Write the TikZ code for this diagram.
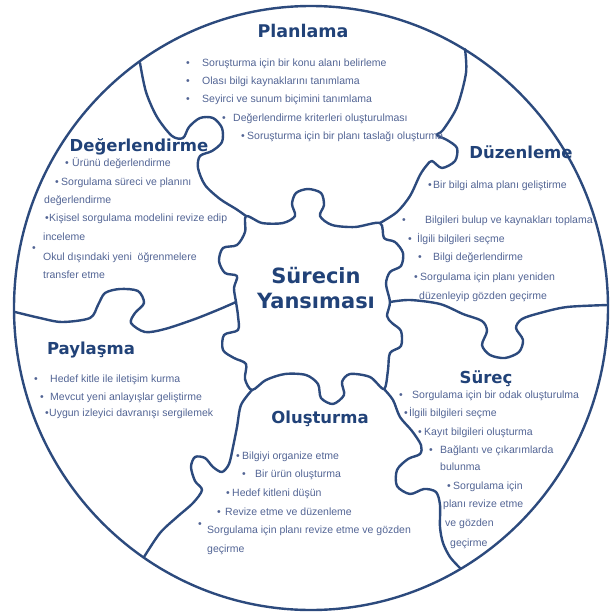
\documentclass[tikz,border=0pt]{standalone}
\usepackage{fontspec}
\setmainfont{Liberation Sans}
\newfontfamily\baslikfont{DejaVu Sans}

\definecolor{cizgi}{RGB}{44,74,125}
\definecolor{baslikrenk}{RGB}{33,66,120}
\definecolor{yazirenk}{RGB}{82,100,148}

\tikzset{
  parca/.style={draw=cizgi, line width=2.4pt, line join=round, line cap=round},
  baslik/.style={font=\baslikfont\bfseries\fontsize{16.5}{18}\selectfont,
    text=baslikrenk, inner sep=0pt, anchor=base},
  satir/.style={font=\fontsize{10.5}{12}\selectfont, text=yazirenk,
    inner sep=0pt, anchor=base west},
}
\newcommand{\madde}[1]{\makebox[#1pt][l]{\textbullet}}

\begin{document}
\begin{tikzpicture}[x=1pt, y=-1pt]
\useasboundingbox (0,0) rectangle (613,616);

\coordinate (TL) at (246,216);
\coordinate (TR) at (380,223);
\coordinate (BR) at (384,389);
\coordinate (BL) at (252,390);
\coordinate (JR) at (390,302);
\coordinate (JL) at (236,302);

% dis cember
\draw[parca] (311,308) ellipse [x radius=297, y radius=302];

% ortadaki parca
\draw[parca] plot[smooth cycle, tension=0.5] coordinates {
  (TL) (262,223) (283,223) (295,216) (292,204) (296,193) (308,189)
  (321,193) (324,205) (320,216) (332,225) (355,227)
  (TR) (384,238) (395,242) (403,253) (401,266) (390,272) (386,284)
  (JR) (387,316) (392,323) (401,331) (401,346) (390,353) (388,370)
  (BR) (370,377) (350,374) (342,382) (344,395) (333,404) (321,398)
  (318,384) (306,375) (285,374) (266,380)
  (BL) (245,379) (246,364) (234,358) (223,350) (224,335) (238,330) (238,316)
  (JL) (234,288) (237,276) (225,273) (219,261) (223,248) (237,245) (245,232)};

% parcalar arasindaki cizgiler
\draw[parca] plot[smooth, tension=0.5] coordinates {
  (140,63) (146,92) (157,117) (172,136) (183,138) (189,127) (200,118)
  (213,118) (222,128) (222,142) (212,151) (200,156) (198,168) (205,185)
  (220,199) (236,209) (TL)};
\draw[parca] plot[smooth, tension=0.5] coordinates {
  (465,49) (466,73) (457,107) (443,130) (437,135) (447,140) (457,148)
  (455,161) (442,168) (432,161) (427,165) (420,175) (410,196) (397,212) (TR)};
\draw[parca] plot[smooth, tension=0.5] coordinates {
  (JR) (410,300) (440,304) (463,314) (482,321) (487,331) (482,345)
  (490,355) (505,358) (519,352) (523,340) (516,328) (522,319) (540,313)
  (567,307) (608,305)};
\draw[parca] plot[smooth, tension=0.5] coordinates {
  (BR) (393,400) (400,417) (412,431) (421,445) (420,454) (408,459)
  (397,470) (397,486) (410,494) (424,489) (436,492) (440,505) (440,527)
  (443,543) (450,557) (460,568)};
\draw[parca] plot[smooth, tension=0.5] coordinates {
  (BL) (241,405) (237,427) (233,447) (229,464) (222,472) (213,467)
  (205,458) (195,457) (191,467) (195,481) (202,490) (193,503) (177,517)
  (160,533) (144,557)};
\draw[parca] plot[smooth, tension=0.5] coordinates {
  (15,312) (40,318) (62,322) (90,318) (98,305) (105,293) (120,289)
  (138,291) (144,303) (135,313) (131,323) (145,332) (165,329) (195,319)
  (220,309) (JL)};

% orta
\node[font=\baslikfont\bfseries\fontsize{21}{25}\selectfont, text=baslikrenk,
  align=center, inner sep=0pt] (orta) at (316,288) {Sürecin\\Yansıması};

% Planlama
\node[baslik, font=\baslikfont\bfseries\fontsize{17.5}{19}\selectfont] (planlama) at (303,37) {Planlama};
\node[satir] (plan1) at (186,66.5) {\madde{16}Soruşturma için bir konu alanı belirleme};
\node[satir] (plan2) at (186,84.5) {\madde{16}Olası bilgi kaynaklarını tanımlama};
\node[satir] (plan3) at (186,102.5) {\madde{16}Seyirci ve sunum biçimini tanımlama};
\node[satir] (plan4) at (222,121.5) {\madde{11}Değerlendirme kriterleri oluşturulması};
\node[satir] (plan5) at (241,139.5) {\madde{6}Soruşturma için bir planı taslağı oluşturma};

% Degerlendirme
\node[baslik] (deger) at (139,151) {Değerlendirme};
\node[satir] (deger1) at (65,166.5) {\madde{7}Ürünü değerlendirme};
\node[satir] (deger2) at (55,185.5) {\madde{6}Sorgulama süreci ve planını};
\node[satir] (deger3) at (44,203.5) {değerlendirme};
\node[satir] (deger4) at (45,221.5) {\madde{4}Kişisel sorgulama modelini revize edip};
\node[satir] (deger5) at (43,240.5) {inceleme};
\node[satir] (deger6) at (32,260.5) {\makebox[11pt][l]{\raisebox{9pt}{\textbullet}}Okul dışındaki yeni~ öğrenmelere};
\node[satir] (deger7) at (43,278.5) {transfer etme};

% Duzenleme
\node[baslik] (duzen) at (521,158) {Düzenleme};
\node[satir] (duzen1) at (428,188.5) {\madde{5}Bir bilgi alma planı geliştirme};
\node[satir] (duzen2) at (402,223.5) {\madde{23}Bilgileri bulup ve kaynakları toplama};
\node[satir] (duzen3) at (408,242.5) {\madde{9}İlgili bilgileri seçme};
\node[satir] (duzen4) at (418,260.5) {\madde{15}Bilgi değerlendirme};
\node[satir] (duzen5) at (414,280.5) {\madde{6}Sorgulama için planı yeniden};
\node[satir] (duzen6) at (419,299.5) {düzenleyip gözden geçirme};

% Paylasma
\node[baslik] (paylas) at (91,354) {Paylaşma};
\node[satir] (paylas1) at (34,382.5) {\madde{16}Hedef kitle ile iletişim kurma};
\node[satir] (paylas2) at (40,400.5) {\madde{10}Mevcut yeni anlayışlar geliştirme};
\node[satir] (paylas3) at (45,416.5) {\madde{4}Uygun izleyici davranışı sergilemek};

% Surec
\node[baslik] (surec) at (486,383) {Süreç};
\node[satir] (surec1) at (399,398.5) {\madde{13}Sorgulama için bir odak oluşturulma};
\node[satir] (surec2) at (404,416.5) {\madde{5}İlgili bilgileri seçme};
\node[satir] (surec3) at (418,435.5) {\madde{6}Kayıt bilgileri oluşturma};
\node[satir] (surec4) at (429,453.5) {\madde{11}Bağlantı ve çıkarımlarda};
\node[satir] (surec5) at (440,470.5) {bulunma};
\node[satir] (surec6) at (447,489.5) {\madde{6}Sorgulama için};
\node[satir] (surec7) at (443,507.5) {planı revize etme};
\node[satir] (surec8) at (445,526.5) {ve gözden};
\node[satir] (surec9) at (450,546.5) {geçirme};

% Olusturma
\node[baslik] (olus) at (320,423) {Oluşturma};
\node[satir] (olus1) at (236,459.5) {\madde{6}Bilgiyi organize etme};
\node[satir] (olus2) at (242,477.5) {\madde{13}Bir ürün oluşturma};
\node[satir] (olus3) at (226,496.5) {\madde{6}Hedef kitleni düşün};
\node[satir] (olus4) at (217,515.5) {\madde{8}Revize etme ve düzenleme};
\node[satir] (olus5) at (198,533.5) {\makebox[9pt][l]{\raisebox{6pt}{\textbullet}}Sorgulama için planı revize etme ve gözden};
\node[satir] (olus6) at (207,552.5) {geçirme};
\end{tikzpicture}
\end{document}
